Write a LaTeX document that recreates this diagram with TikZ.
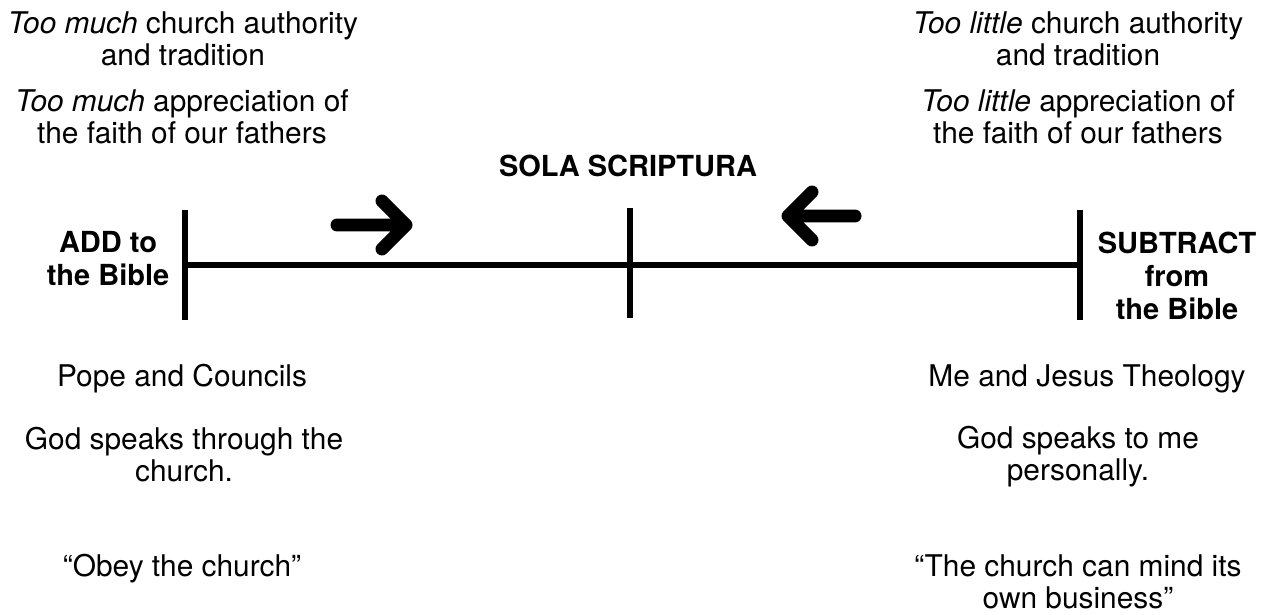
\documentclass[tikz,border=0pt]{standalone}
\usepackage{fontspec}
\setmainfont{TeX Gyre Heros}
\usetikzlibrary{positioning}

\begin{document}
\begin{tikzpicture}[x=0.02cm, y=-0.02cm, font=\fontsize{17}{18.2}\selectfont,
  note/.style={align=center, inner sep=0pt},
  pole/.style={note, font=\fontsize{16.5}{18.8}\selectfont\bfseries},
  beam/.style={line width=0.12cm},
  shove/.style={line width=0.26cm, line cap=round, line join=round}]
		\useasboundingbox (0,0) rectangle (1272,615);
		% left side
		\node[note] (muchA) at (183,39) {\textit{Too much} church authority\\and tradition};
		\node[note] (muchB) at (182,117) {\textit{Too much} appreciation of\\the faith of our fathers};
		\node[pole] (add) at (108,259) {ADD to\\the Bible};
		\node[note] (pope) at (182,379) {Pope and Councils};
		\node[note] (through) at (184,455) {God speaks through the\\church.};
		\node[note] (obey) at (182,569) {``Obey the church''};
		% right side
		\node[note] (littleA) at (1078,39) {\textit{Too little} church authority\\and tradition};
		\node[note] (littleB) at (1078,117) {\textit{Too little} appreciation of\\the faith of our fathers};
		\node[pole] (sub) at (1177,276) {SUBTRACT\\from\\the Bible};
		\node[note] (jesus) at (1087,379) {Me and Jesus Theology};
		\node[note] (tome) at (1078,457) {God speaks to me\\personally.};
		\node[note] (mind) at (1078,582) {``The church can mind its\\own business''};
		% middle
		\node[pole] (sola) at (628,166) {SOLA SCRIPTURA};
		\coordinate (L) at (185,265);
		\coordinate (M) at (630,265);
		\coordinate (R) at (1080,265);
		\draw[beam] (L) -- (R);
		\draw[beam] (L) ++(0,-55) -- ++(0,110);
		\draw[beam] (M) ++(0,-57) -- ++(0,110);
		\draw[beam] (R) ++(0,-55) -- ++(0,110);
		% arrows toward the middle
		\draw[shove] (337,225) -- (406,225) (382,201) -- (406,225) -- (382,249);
		\draw[shove] (855,216) -- (788,216) (812,192) -- (788,216) -- (812,240);
	\end{tikzpicture}
\end{document}
